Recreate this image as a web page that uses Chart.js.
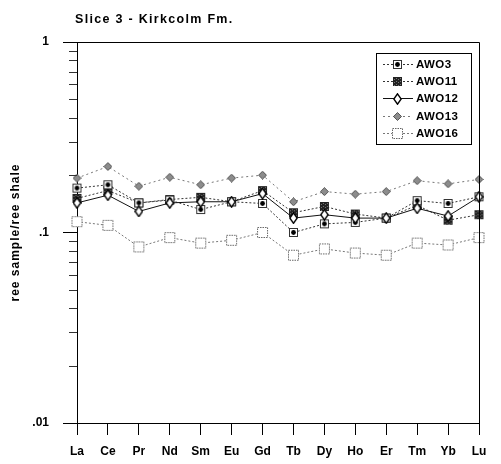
<!DOCTYPE html>
<html><head><meta charset="utf-8">
<script src="https://cdn.jsdelivr.net/npm/chart.js@4.4.0/dist/chart.umd.min.js"></script>
<style>html,body{margin:0;padding:0;background:#fff}#wrap{width:501px;height:464px;position:relative}</style>
</head><body><div id="wrap"><canvas id="c"></canvas></div>
<script>
const elements = ['La','Ce','Pr','Nd','Sm','Eu','Gd','Tb','Dy','Ho','Er','Tm','Yb','Lu'];
const awo3  = [0.171, 0.178, 0.143, 0.148, 0.132, 0.145, 0.142, 0.100, 0.111, 0.113, 0.119, 0.147, 0.142, 0.154];
const awo11 = [0.151, 0.166, 0.143, 0.149, 0.153, 0.145, 0.166, 0.127, 0.137, 0.125, 0.119, 0.139, 0.116, 0.124];
const awo12 = [0.143, 0.157, 0.129, 0.143, 0.145, 0.145, 0.160, 0.119, 0.124, 0.119, 0.119, 0.134, 0.122, 0.154];
const awo13 = [0.193, 0.222, 0.175, 0.195, 0.178, 0.193, 0.200, 0.145, 0.164, 0.159, 0.164, 0.187, 0.180, 0.190];
const awo16 = [0.114, 0.109, 0.084, 0.094, 0.088, 0.091, 0.100, 0.076, 0.082, 0.078, 0.076, 0.088, 0.086, 0.094];
const seriesNames = ['AWO3', 'AWO11', 'AWO12', 'AWO13', 'AWO16'];
const yTickValues = [0.01, 0.1, 1];
const yTickLabels = ['.01', '.1', '1'];
const yMinorValues = [0.02,0.03,0.04,0.05,0.06,0.07,0.08,0.09,0.2,0.3,0.4,0.5,0.6,0.7,0.8,0.9];
const titleText = 'Slice 3 - Kirkcolm Fm.';
const yTitleText = 'ree sample/ree shale';

const FONT = '"Liberation Sans", Arial, sans-serif';

function mk(w, h, draw) {
  const c = document.createElement('canvas');
  c.width = w; c.height = h;
  draw(c.getContext('2d'));
  return c;
}
const mAWO3 = mk(11, 11, g => {
  g.fillStyle = '#fff'; g.fillRect(1, 1, 9, 9);
  g.strokeStyle = '#333'; g.lineWidth = 1; g.strokeRect(1.5, 1.5, 8, 8);
  g.fillStyle = '#000'; g.beginPath(); g.arc(5.5, 5.5, 2.4, 0, Math.PI * 2); g.fill();
});
const mAWO11 = mk(11, 11, g => {
  g.fillStyle = '#222'; g.fillRect(1, 1, 9, 9);
  g.fillStyle = '#777';
  for (let i = 2; i < 10; i += 2) for (let j = 2 + (i % 4 ? 1 : 0); j < 10; j += 3) g.fillRect(i, j, 1, 1);
});
const mAWO12 = mk(9, 12, g => {
  g.beginPath(); g.moveTo(4.5, 0.8); g.lineTo(8.2, 6); g.lineTo(4.5, 11.2); g.lineTo(0.8, 6); g.closePath();
  g.fillStyle = '#fff'; g.fill(); g.strokeStyle = '#000'; g.lineWidth = 1.4; g.stroke();
});
const mAWO13 = mk(9, 9, g => {
  g.beginPath(); g.moveTo(4.5, 0.5); g.lineTo(8.5, 4.5); g.lineTo(4.5, 8.5); g.lineTo(0.5, 4.5); g.closePath();
  g.fillStyle = '#8c8c8c'; g.fill(); g.strokeStyle = '#555'; g.lineWidth = 1; g.stroke();
});
const mAWO16 = mk(13, 13, g => {
  g.fillStyle = '#fff'; g.fillRect(1, 1, 11, 11);
  g.setLineDash([1.5, 1]); g.strokeStyle = '#666'; g.lineWidth = 1; g.strokeRect(1.5, 1.5, 10, 10);
});

const datasets = [
  {label: seriesNames[0], data: awo3,  borderColor: '#333', borderDash: [2, 2], pointStyle: mAWO3,  order: 1},
  {label: seriesNames[1], data: awo11, borderColor: '#333', borderDash: [2, 2], pointStyle: mAWO11, order: 2},
  {label: seriesNames[2], data: awo12, borderColor: '#111', borderDash: [],     pointStyle: mAWO12, order: 0},
  {label: seriesNames[3], data: awo13, borderColor: '#777', borderDash: [2, 3], pointStyle: mAWO13, order: 3},
  {label: seriesNames[4], data: awo16, borderColor: '#777', borderDash: [2, 2], pointStyle: mAWO16, order: 4}
].map(d => Object.assign({borderWidth: 1, fill: false, tension: 0, clip: false, pointRadius: 5}, d));

const decor = {
  id: 'decor',
  afterDraw(chart) {
    const {ctx, chartArea: a, scales: {y}} = chart;
    ctx.save();
    ctx.strokeStyle = '#000'; ctx.lineWidth = 1;
    ctx.beginPath();
    ctx.moveTo(a.left, Math.round(a.top) + 0.5);
    ctx.lineTo(Math.round(a.right) + 0.5, Math.round(a.top) + 0.5);
    ctx.lineTo(Math.round(a.right) + 0.5, a.bottom);
    ctx.stroke();
    ctx.beginPath();
    for (const v of yMinorValues) {
      const py = Math.round(y.getPixelForValue(v)) + 0.5;
      ctx.moveTo(a.left - 8, py); ctx.lineTo(a.left, py);
    }
    ctx.strokeStyle = '#333'; ctx.stroke();

    ctx.fillStyle = '#000'; ctx.textBaseline = 'middle'; ctx.textAlign = 'left';
    ctx.font = 'bold 12.5px ' + FONT;
    ctx.letterSpacing = '1.3px';
    ctx.fillText(titleText, 75, 20);

    ctx.save();
    ctx.translate(16, (a.top + a.bottom) / 2);
    ctx.rotate(-Math.PI / 2);
    ctx.textAlign = 'center';
    ctx.font = 'bold 12px ' + FONT;
    ctx.letterSpacing = '1px';
    ctx.fillText(yTitleText, 0, 0);
    ctx.restore();

    const lx = 376, ly = 53, lw = 95, lh = 91;
    ctx.fillStyle = '#fff'; ctx.fillRect(lx, ly, lw, lh);
    ctx.strokeStyle = '#000'; ctx.lineWidth = 1; ctx.setLineDash([]);
    ctx.strokeRect(lx + 0.5, ly + 0.5, lw, lh);
    ctx.font = 'bold 11.5px ' + FONT;
    ctx.letterSpacing = '0.4px';
    chart.data.datasets.forEach((ds, i) => {
      const cy = Math.round(64 + i * 17.2) + 0.5;
      ctx.beginPath(); ctx.setLineDash(ds.borderDash); ctx.strokeStyle = ds.borderColor;
      ctx.moveTo(383, cy); ctx.lineTo(413, cy); ctx.stroke();
      ctx.setLineDash([]);
      const im = ds.pointStyle;
      ctx.drawImage(im, Math.round(397 - im.width / 2), Math.round(cy - im.height / 2));
      ctx.fillStyle = '#000';
      ctx.fillText(ds.label, 416, cy);
    });
    ctx.restore();
  }
};

new Chart(document.getElementById('c'), {
  type: 'line',
  data: {labels: elements, datasets},
  plugins: [decor],
  options: {
    responsive: true, maintainAspectRatio: false, animation: false,
    layout: {padding: {top: 42, right: 22, left: 0, bottom: 0}, autoPadding: false},
    plugins: {legend: {display: false}, tooltip: {enabled: false}, title: {display: false}},
    scales: {
      x: {
        type: 'category', offset: false,
        grid: {drawOnChartArea: false, drawTicks: true, tickLength: 12, color: '#000'},
        border: {display: true, color: '#000', width: 1},
        ticks: {color: '#000', font: {family: FONT, size: 12, weight: 'bold'}, padding: 9, maxRotation: 0, autoSkip: false},
        afterFit: s => { s.height = 41; }
      },
      y: {
        type: 'logarithmic', min: 0.01, max: 1,
        afterBuildTicks: s => { s.ticks = yTickValues.map(v => ({value: v, major: true})); },
        grid: {drawOnChartArea: false, drawTicks: true, tickLength: 14, color: '#000'},
        border: {display: true, color: '#000', width: 1},
        ticks: {color: '#000', font: {family: FONT, size: 12, weight: 'bold'}, padding: 14,
                callback: (v, i) => yTickLabels[i]},
        afterFit: s => { s.width = 77; }
      }
    }
  }
});
</script></body></html>
